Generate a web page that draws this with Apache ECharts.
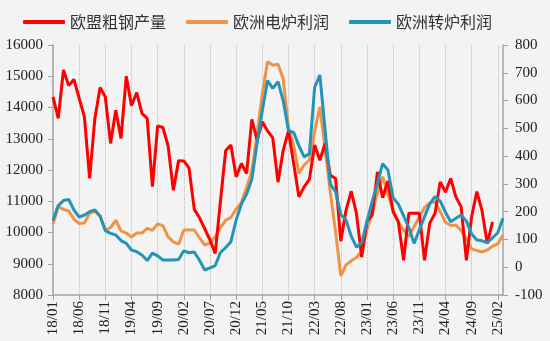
<!DOCTYPE html>
<html>
<head>
<meta charset="utf-8">
<script src="https://cdn.jsdelivr.net/npm/echarts@6/dist/echarts.min.js"></script>
<style>
html,body{margin:0;padding:0;background:#F3F3F3;}
#c{width:550px;height:341px;}
</style>
</head>
<body>
<div id="c"></div>
<script>
// categories: monthly 2018/01 .. 2025/03
const categories = [];
for (let y = 18; y <= 25; y++) {
  for (let m = 1; m <= 12; m++) {
    if (y === 25 && m > 3) break;
    categories.push(y + '/' + (m < 10 ? '0' + m : m));
  }
}
const seriesNames = ['欧盟粗钢产量', '欧洲电炉利润', '欧洲转炉利润'];
const euCrudeSteel = [
  14340,13650,15200,14700,14900,14300,13700,11730,13650,14640,14340,12850,
  13910,13010,15000,14060,14480,13810,13650,11470,13410,13360,12770,11350,
  12300,12290,12060,10740,10470,10120,9760,9330,11000,12620,12800,11780,
  12210,11890,13620,12960,13540,13250,13030,11610,12630,13250,12200,11140,
  11460,11700,12800,12310,12850,11830,11730,9720,10710,11320,10600,9210,
  10360,10550,11940,11110,11650,10660,10340,9110,10620,10620,10620,9110,
  10300,10610,11620,11290,11730,11140,10820,9110,10500,11310,10690,9640,
  10340
];
const eafProfit = [
  155,218,208,203,173,157,159,194,202,183,133,143,
  169,131,123,109,123,123,140,133,156,150,109,91,
  83,134,134,134,106,80,88,110,143,169,179,209,
  233,287,347,482,623,740,727,731,678,503,437,338,
  368,386,488,577,428,269,128,-31,8,23,35,59,
  134,197,266,326,262,206,164,134,110,146,180,215,
  232,236,200,162,150,152,132,102,66,60,55,62,
  76,84,116
];
const bofProfit = [
  168,222,240,244,206,180,188,200,206,184,132,122,
  116,96,86,62,56,44,24,51,41,26,26,26,
  28,59,52,55,25,-10,-2,6,53,71,92,170,
  227,263,317,446,563,672,644,668,599,491,485,437,
  397,409,647,692,494,299,272,190,170,112,72,88,
  165,236,302,373,350,250,227,185,143,86,134,182,
  228,254,238,198,164,176,188,166,120,98,95,88,
  106,124,176
];
const leftTicks = {min: 8000, max: 16000, interval: 1000};
const rightTicks = {min: -100, max: 800, interval: 100};

const colors = ['#FF0000', '#ED9447', '#2393B8'];
const serif = '"Liberation Serif", "Times New Roman", serif';
const axisLineStyle = {color: '#A3A3A3', width: 1.5};

const chart = echarts.init(document.getElementById('c'), null, {renderer: 'canvas'});
chart.setOption({
  backgroundColor: '#F3F3F3',
  animation: false,
  color: colors,
  legend: {
    top: 9, left: 18,
    itemWidth: 42, itemHeight: 4, itemGap: 20,
    icon: 'roundRect',
    textStyle: {fontFamily: '"Noto Sans CJK SC"', fontSize: 16, color: '#333'},
    data: seriesNames
  },
  grid: {left: 53, right: 47, top: 45, bottom: 46, containLabel: false},
  xAxis: {
    type: 'category', data: categories, boundaryGap: false,
    axisLine: {onZero: false, lineStyle: axisLineStyle},
    axisTick: {interval: 4, length: 5, lineStyle: {color: '#A3A3A3'}},
    axisLabel: {interval: 4, rotate: 90, margin: 6, fontFamily: serif, fontSize: 15, color: '#222'},
    splitLine: {show: true, interval: 4, lineStyle: {type: 'dotted', color: '#BDBDBD', width: 1}}
  },
  yAxis: [
    {
      type: 'value', position: 'left', min: leftTicks.min, max: leftTicks.max, interval: leftTicks.interval,
      axisLine: {show: true, lineStyle: axisLineStyle},
      axisTick: {show: true, length: 5, lineStyle: {color: '#A3A3A3'}},
      axisLabel: {margin: 10, fontFamily: serif, fontSize: 15, color: '#222', formatter: v => String(v)},
      splitLine: {show: false}
    },
    {
      type: 'value', position: 'right', min: rightTicks.min, max: rightTicks.max, interval: rightTicks.interval,
      axisLine: {show: true, lineStyle: axisLineStyle},
      axisTick: {show: true, length: 5, lineStyle: {color: '#A3A3A3'}},
      axisLabel: {margin: 12, fontFamily: serif, fontSize: 15, color: '#222', formatter: v => String(v)},
      splitLine: {show: false}
    }
  ],
  series: [
    {name: seriesNames[0], type: 'line', yAxisIndex: 0, data: euCrudeSteel, symbol: 'none', lineStyle: {width: 3}, z: 3},
    {name: seriesNames[1], type: 'line', yAxisIndex: 1, data: eafProfit, symbol: 'none', lineStyle: {width: 3}, z: 2},
    {name: seriesNames[2], type: 'line', yAxisIndex: 1, data: bofProfit, symbol: 'none', lineStyle: {width: 3}, z: 4}
  ]
});
</script>
</body>
</html>
